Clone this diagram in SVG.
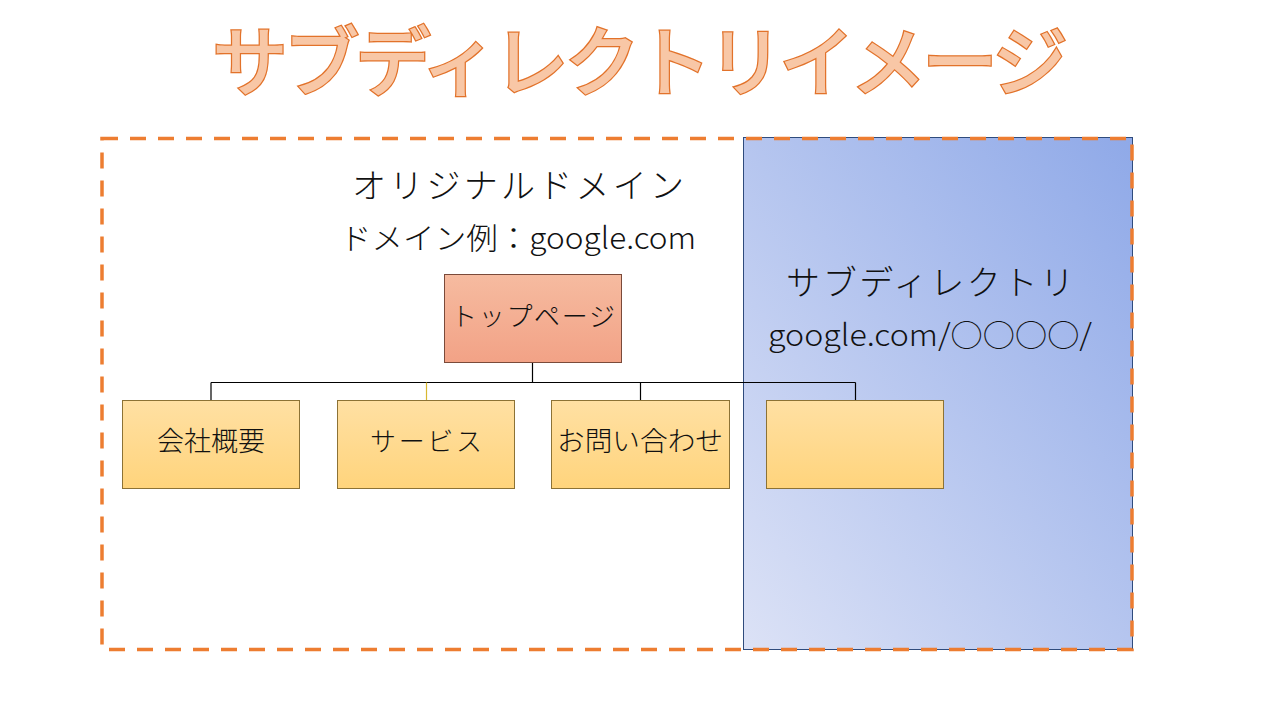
<svg xmlns="http://www.w3.org/2000/svg" width="1280" height="720" viewBox="0 0 1280 720">
<defs>
<linearGradient id="blueGrad" x1="0" y1="1" x2="1" y2="0">
<stop offset="0" stop-color="#DCE2F6"/>
<stop offset="1" stop-color="#8FA9E8"/>
</linearGradient>
<linearGradient id="topGrad" x1="0" y1="0" x2="0" y2="1">
<stop offset="0" stop-color="#F6BBA0"/>
<stop offset="1" stop-color="#F2A286"/>
</linearGradient>
<linearGradient id="childGrad" x1="0" y1="0" x2="0" y2="1">
<stop offset="0" stop-color="#FFE0A3"/>
<stop offset="1" stop-color="#FFD47C"/>
</linearGradient>
<style>
.jp{font-family:"Noto Sans CJK JP","Noto Sans",sans-serif;font-weight:300;fill:#111}
.title{font-family:"Noto Sans CJK JP",sans-serif;font-weight:500;font-size:76px;fill:#F8C7A6;stroke:#E2722A;stroke-width:2.5;paint-order:stroke}
.child{fill:url(#childGrad);stroke:#8C7235;stroke-width:1}
.conn{fill:none;stroke:#000;stroke-width:1.2}
</style>
</defs>
<rect width="1280" height="720" fill="#fff"/>
<g id="title">
<text class="title" x="640" y="90" text-anchor="middle" textLength="856" lengthAdjust="spacing">サブディレクトリイメージ</text>
</g>
<g id="subdirectory">
<rect x="743.5" y="137.5" width="389" height="512" fill="url(#blueGrad)" stroke="#2F4B7C" stroke-width="1"/>
<text class="jp" x="930" y="295" font-size="34" text-anchor="middle" textLength="288" lengthAdjust="spacing">サブディレクトリ</text>
<text class="jp" x="930" y="346" font-size="30" text-anchor="middle" textLength="324" lengthAdjust="spacingAndGlyphs">google.com/○○○○/</text>
</g>
<g id="domain-frame">
<rect x="102" y="138.5" width="1030" height="511" fill="none" stroke="#ED7D31" stroke-width="3.5" stroke-dasharray="16 12"/>
</g>
<g id="domain-label">
<text class="jp" x="518" y="198" font-size="34" text-anchor="middle" textLength="332" lengthAdjust="spacing">オリジナルドメイン</text>
<text class="jp" x="518" y="249" font-size="30" text-anchor="middle" textLength="356" lengthAdjust="spacingAndGlyphs">ドメイン例：google.com</text>
</g>
<g id="connectors">
<path class="conn" d="M532.5 363 V382.5 M211 382.5 H855.5 M211 382.5 V400 M640.5 382.5 V400 M855.5 382.5 V400"/>
<path d="M426.5 382.5 V400" fill="none" stroke="#D8B830" stroke-width="1.2"/>
</g>
<g id="top-page">
<rect x="444.5" y="274.5" width="177" height="88" fill="url(#topGrad)" stroke="#7A4A3A" stroke-width="1"/>
<text class="jp" x="533" y="326" font-size="26" text-anchor="middle" textLength="164" lengthAdjust="spacing">トップページ</text>
</g>
<g id="company">
<rect class="child" x="122.5" y="400.5" width="177" height="88"/>
<text class="jp" x="211" y="451" font-size="27" text-anchor="middle">会社概要</text>
</g>
<g id="service">
<rect class="child" x="337.5" y="400.5" width="177" height="88"/>
<text class="jp" x="426" y="451" font-size="26" text-anchor="middle" textLength="112" lengthAdjust="spacing">サービス</text>
</g>
<g id="contact">
<rect class="child" x="551.5" y="400.5" width="178" height="88"/>
<text class="jp" x="640" y="451" font-size="27" text-anchor="middle" textLength="166" lengthAdjust="spacingAndGlyphs">お問い合わせ</text>
</g>
<g id="subpage">
<rect class="child" x="766.5" y="400.5" width="177" height="88"/>
</g>
</svg>
